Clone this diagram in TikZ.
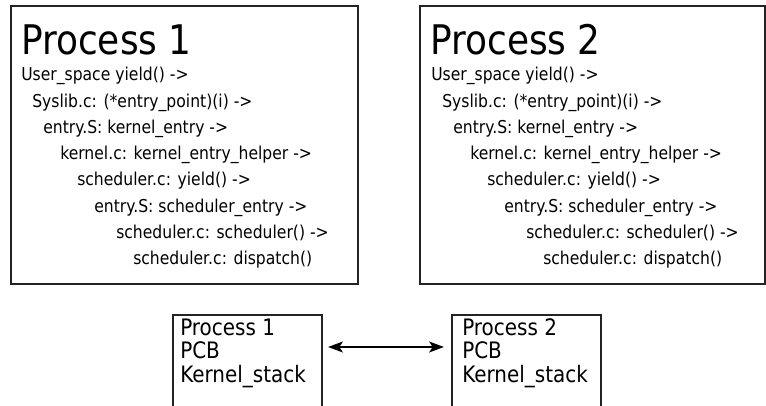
\documentclass[tikz,border=0pt]{standalone}
\usepackage{fontspec}
\setmainfont{DejaVu Sans}[FakeStretch=0.88]
\usetikzlibrary{arrows.meta}
\begin{document}
\begin{tikzpicture}[x=0.75pt,y=-0.75pt,
  frame/.style={draw={rgb,255:red,35;green,35;blue,35},line width=1.1pt},
  title/.style={anchor=base west,inner sep=0pt,font=\fontsize{30.6pt}{31pt}\selectfont},
  call/.style={anchor=base west,inner sep=0pt,font=\fontsize{13.3pt}{14pt}\selectfont},
  pcb/.style={anchor=base west,inner sep=0pt,font=\fontsize{17pt}{18pt}\selectfont},
  link/.style={line width=2.2pt,{Stealth[length=11pt,width=8pt,inset=2.5pt]}-{Stealth[length=11pt,width=8pt,inset=2.5pt]}}]
\useasboundingbox (0,0) rectangle (766,406);

% call chain of process 1
\draw[frame] (11,6) rectangle (358,284);
\node[title] (t1) at (21,55) {Process 1};
\node[call] (p1l1) at (21,81)    {User\_space yield() ->};
\node[call] (p1l2) at (32,107.2) {Syslib.c: (*entry\_point)(i) ->};
\node[call] (p1l3) at (43,133.4) {entry.S: kernel\_entry ->};
\node[call] (p1l4) at (60,159.6) {kernel.c: kernel\_entry\_helper ->};
\node[call] (p1l5) at (77,185.8) {scheduler.c: yield() ->};
\node[call] (p1l6) at (94,212)   {entry.S: scheduler\_entry ->};
\node[call] (p1l7) at (116,238.2){scheduler.c: scheduler() ->};
\node[call] (p1l8) at (133,264.4){scheduler.c: dispatch()};

% call chain of process 2
\draw[frame] (420,6) rectangle (765,284);
\node[title] (t2) at (430,55) {Process 2};
\node[call] (p2l1) at (431,81)    {User\_space yield() ->};
\node[call] (p2l2) at (442,107.2) {Syslib.c: (*entry\_point)(i) ->};
\node[call] (p2l3) at (453,133.4) {entry.S: kernel\_entry ->};
\node[call] (p2l4) at (470,159.6) {kernel.c: kernel\_entry\_helper ->};
\node[call] (p2l5) at (487,185.8) {scheduler.c: yield() ->};
\node[call] (p2l6) at (504,212)   {entry.S: scheduler\_entry ->};
\node[call] (p2l7) at (526,238.2) {scheduler.c: scheduler() ->};
\node[call] (p2l8) at (543,264.4) {scheduler.c: dispatch()};

% process control blocks
\draw[frame] (173,406) -- (173,315) -- (322,315) -- (322,406);
\node[pcb] (b1a) at (180,335) {Process 1};
\node[pcb] (b1b) at (180,358.5) {PCB};
\node[pcb] (b1c) at (180,382) {Kernel\_stack};

\draw[frame] (452,406) -- (452,315) -- (601,315) -- (601,406);
\node[pcb] (b2a) at (462,335) {Process 2};
\node[pcb] (b2b) at (462,358.5) {PCB};
\node[pcb] (b2c) at (462,382) {Kernel\_stack};

% context switch between the two
\coordinate (s1) at (328,347);
\coordinate (s2) at (444,347);
\draw[link] (s1) -- (s2);
\end{tikzpicture}
\end{document}
